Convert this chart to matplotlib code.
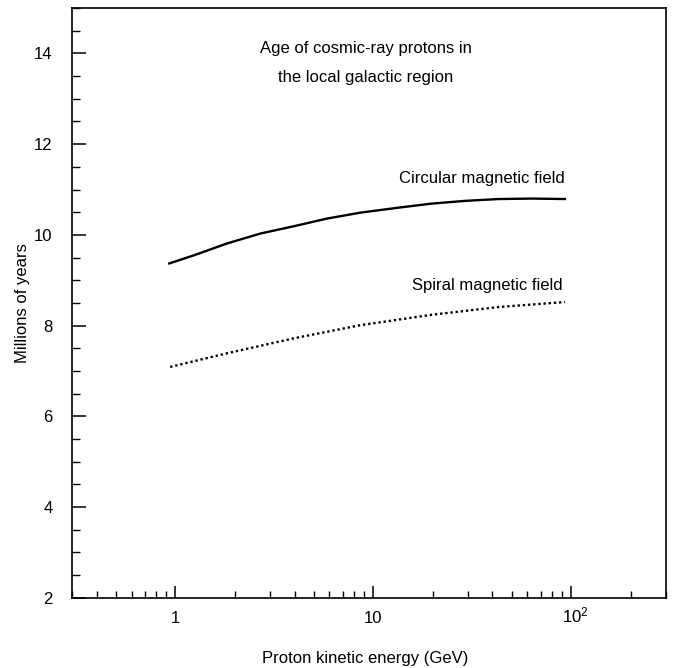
import matplotlib
matplotlib.use("Agg")
import matplotlib.pyplot as plt
import matplotlib.transforms as mtransforms
from matplotlib.ticker import FixedLocator, FixedFormatter, MultipleLocator, LogLocator, NullFormatter

plt.rcParams['font.family'] = ['Liberation Sans', 'DejaVu Sans']

# Proton kinetic energy (GeV) and age in millions of years
energy_circular = [0.93, 1.24, 1.82, 2.69, 3.96, 5.84, 8.6, 13.4, 19.8, 29.2, 43.0, 63.4, 93.0]
age_circular = [9.37, 9.55, 9.81, 10.03, 10.19, 10.36, 10.49, 10.60, 10.69, 10.75, 10.79, 10.80, 10.79]

energy_spiral = [0.94, 1.82, 3.96, 8.6, 19.8, 43.0, 93.0]
age_spiral = [7.09, 7.39, 7.72, 8.01, 8.24, 8.41, 8.52]

x_ticks = [1, 10, 100]
x_tick_labels = ['1', '10', r'$\mathregular{10^2}$']
y_ticks = [2, 4, 6, 8, 10, 12, 14]

fig = plt.figure(figsize=(6.73, 6.68), dpi=100)
ax = fig.add_axes([0.107, 0.105, 0.882, 0.883])

ax.plot(energy_circular, age_circular, color='black', lw=1.7)
ax.plot(energy_spiral, age_spiral, color='black', lw=1.7, linestyle=(0, (1, 1.2)))

ax.set_xscale('log')
ax.set_xlim(0.3, 300)
ax.set_ylim(2, 15)

ax.xaxis.set_major_locator(FixedLocator(x_ticks))
ax.xaxis.set_major_formatter(FixedFormatter(x_tick_labels))
ax.xaxis.set_minor_locator(LogLocator(base=10, subs=range(2, 10)))
ax.xaxis.set_minor_formatter(NullFormatter())
ax.set_yticks(y_ticks)
ax.yaxis.set_minor_locator(MultipleLocator(0.5))

ax.tick_params(which='both', direction='in', top=False, right=False, labelsize=12)
ax.tick_params(axis='x', which='major', length=9, width=1.1, pad=18)
ax.tick_params(axis='x', which='minor', length=5, width=1.0)
ax.tick_params(axis='y', which='major', length=10, width=1.1, pad=14)
ax.tick_params(axis='y', which='minor', length=6, width=1.0)

# keep all x tick labels on one baseline, "10" of 10^2 centred on its tick
for i, lab in enumerate(ax.get_xticklabels()):
    lab.set_va('baseline')
    if i == 2:
        lab.set_transform(lab.get_transform() +
                          mtransforms.ScaledTranslation(4 / 100, 0, fig.dpi_scale_trans))

for s in ax.spines.values():
    s.set_linewidth(1.2)

fig.text(0.543, 0.0135, 'Proton kinetic energy (GeV)', ha='center', va='center', fontsize=12)
fig.text(0.033, 0.547, 'Millions of years', ha='center', va='center',
         rotation=90, fontsize=12)

ax.text(0.495, 0.932, 'Age of cosmic-ray protons in', transform=ax.transAxes,
        ha='center', va='center', fontsize=12)
ax.text(0.495, 0.883, 'the local galactic region', transform=ax.transAxes,
        ha='center', va='center', fontsize=12)

ax.text(93, 11.25, 'Circular magnetic field', ha='right', va='center', fontsize=12)
ax.text(90, 8.89, 'Spiral magnetic field', ha='right', va='center', fontsize=12)

fig.savefig('out.png', dpi=100)
